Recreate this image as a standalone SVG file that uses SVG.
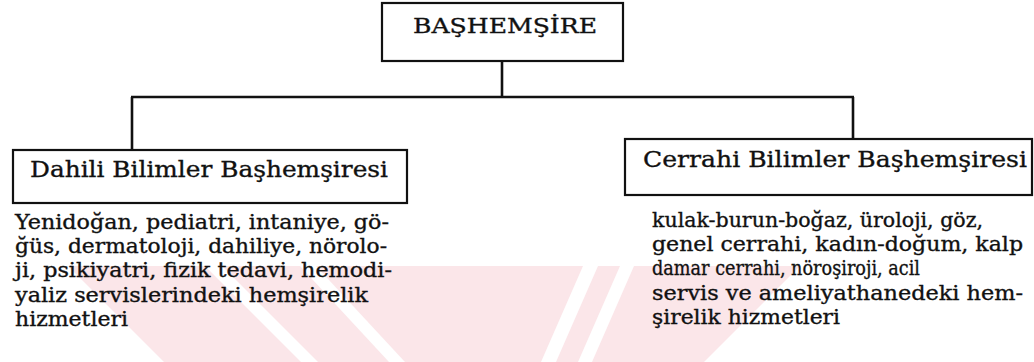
<svg xmlns="http://www.w3.org/2000/svg" width="1034" height="362" viewBox="0 0 1034 362">
<style>
.box{fill:#fff;stroke:#111;stroke-width:2.2}
.ln{stroke:#111;stroke-width:2.6;fill:none}
.t{font-family:"DejaVu Serif","Liberation Serif",serif;fill:#111;stroke:#111;stroke-width:0.35}
.h{font-size:23px}
.d{font-size:20px}
.wm{fill:#fbe6e9}
.wh{fill:#fff}
</style>
<rect width="1034" height="362" fill="#fff"/>
<g id="watermark">
<polygon class="wm" points="68,266 800,266 704,362 164,362"/>
<polygon class="wh" points="205,266 222,266 318,362 301,362"/>
<polygon class="wh" points="300,266 316,266 405,362 389,362"/>
<polygon class="wh" points="583,266 598,266 556,362 541,362"/>
<polygon class="wh" points="620,266 634,266 592,362 578,362"/>
</g>
<g id="connectors">
<line class="ln" x1="502" y1="61" x2="502" y2="97"/>
<line class="ln" x1="131" y1="97" x2="854" y2="97"/>
<line class="ln" x1="132" y1="97" x2="132" y2="150"/>
<line class="ln" x1="853" y1="97" x2="853" y2="139"/>
</g>
<g id="bashemsire">
<rect class="box" x="382" y="3" width="241" height="58"/>
<text class="t" x="413" y="33" font-size="21" textLength="184" lengthAdjust="spacingAndGlyphs">BAŞHEMŞİRE</text>
</g>
<g id="dahili">
<rect class="box" x="13" y="150" width="394" height="53"/>
<text class="t h" x="30" y="177" textLength="358" lengthAdjust="spacingAndGlyphs">Dahili Bilimler Başhemşiresi</text>
</g>
<g id="dahili-desc">
<text class="t d" x="15" y="229" textLength="374" lengthAdjust="spacingAndGlyphs">Yenidoğan, pediatri, intaniye, gö-</text>
<text class="t d" x="15" y="253" textLength="372" lengthAdjust="spacingAndGlyphs">ğüs, dermatoloji, dahiliye, nörolo-</text>
<text class="t d" x="15" y="277" textLength="377" lengthAdjust="spacingAndGlyphs">ji, psikiyatri, fizik tedavi, hemodi-</text>
<text class="t d" x="15" y="302" textLength="353" lengthAdjust="spacingAndGlyphs">yaliz servislerindeki hemşirelik</text>
<text class="t d" x="15" y="326" textLength="113" lengthAdjust="spacingAndGlyphs">hizmetleri</text>
</g>
<g id="cerrahi">
<rect class="box" x="625" y="139" width="407" height="56"/>
<text class="t h" x="643" y="167" textLength="384" lengthAdjust="spacingAndGlyphs">Cerrahi Bilimler Başhemşiresi</text>
</g>
<g id="cerrahi-desc">
<text class="t d" x="652" y="227" textLength="331" lengthAdjust="spacingAndGlyphs">kulak-burun-boğaz, üroloji, göz,</text>
<text class="t d" x="652" y="251" textLength="371" lengthAdjust="spacingAndGlyphs">genel cerrahi, kadın-doğum, kalp</text>
<text class="t d" x="652" y="275" textLength="268" lengthAdjust="spacingAndGlyphs">damar cerrahi, nöroşiroji, acil</text>
<text class="t d" x="652" y="300" textLength="371" lengthAdjust="spacingAndGlyphs">servis ve ameliyathanedeki hem-</text>
<text class="t d" x="652" y="324" textLength="188" lengthAdjust="spacingAndGlyphs">şirelik hizmetleri</text>
</g>
</svg>
